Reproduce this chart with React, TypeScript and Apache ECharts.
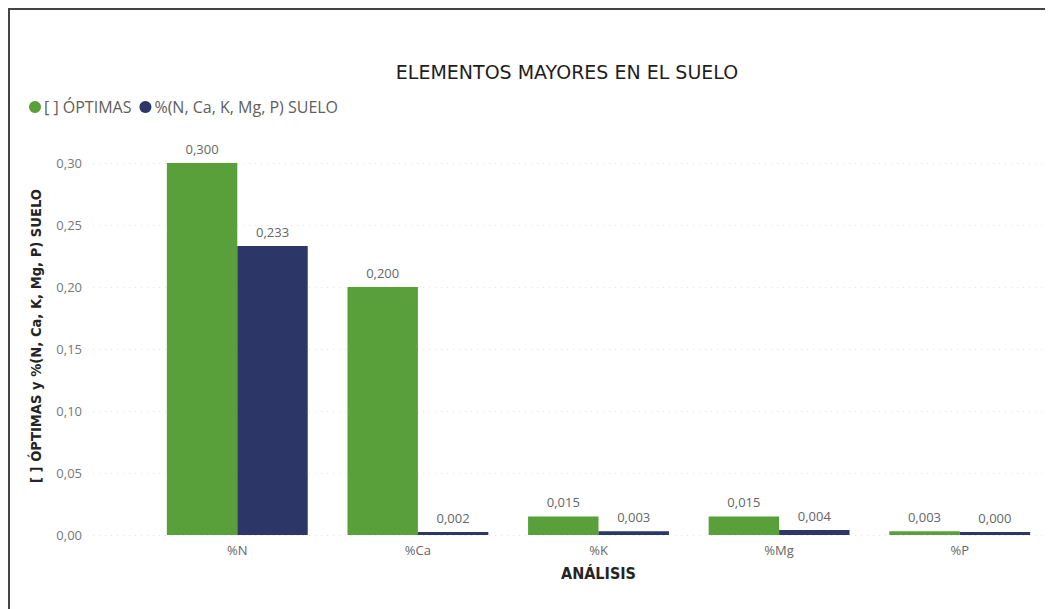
import React, { useEffect, useRef } from "react";
import * as echarts from "echarts";

const categories = ["%N", "%Ca", "%K", "%Mg", "%P"];
const optimas = [0.3, 0.2, 0.015, 0.015, 0.003];
const suelo = [0.233, 0.002, 0.003, 0.004, 0.0];
const seriesNames = ["[ ] ÓPTIMAS", "%(N, Ca, K, Mg, P) SUELO"];
const chartTitle = "ELEMENTOS MAYORES EN EL SUELO";
const yAxisTitle = "[ ] ÓPTIMAS y %(N, Ca, K, Mg, P) SUELO";
const xAxisTitle = "ANÁLISIS";

const fmt3 = (v: number) => v.toFixed(3).replace(".", ",");
const fmt2 = (v: number) => v.toFixed(2).replace(".", ",");

export default function App() {
  const ref = useRef<HTMLDivElement>(null);
  useEffect(() => {
    if (!ref.current) return;
    const chart = echarts.init(ref.current, undefined, { renderer: "svg" });
    const font = "'Open Sans', 'Noto Sans', sans-serif";
    const labelStyle = {
      show: true,
      position: "top" as const,
      distance: 8,
      color: "#666666",
      fontSize: 13,
      fontFamily: font,
      formatter: (p: any) => fmt3(p.value),
    };
    chart.setOption({
      animation: false,
      textStyle: { fontFamily: font },
      graphic: [
        {
          type: "text",
          x: 557,
          y: 62,
          style: {
            text: chartTitle,
            fill: "#1F1E1D",
            align: "center",
            verticalAlign: "middle",
            font: "500 19px 'DejaVu Sans', sans-serif",
          },
        },
        {
          type: "text",
          x: 25,
          y: 326,
          rotation: Math.PI / 2,
          style: {
            text: yAxisTitle,
            fill: "#252423",
            align: "center",
            verticalAlign: "middle",
            font: "bold 14.6px 'DejaVu Sans Condensed', 'DejaVu Sans', sans-serif",
          },
        },
      ],
      legend: {
        left: 14,
        top: 84,
        icon: "circle",
        itemWidth: 12,
        itemHeight: 12,
        itemGap: 8,
        textStyle: { color: "#605E5C", fontSize: 16, fontFamily: font, padding: [0, 0, 0, -2] },
        data: seriesNames,
      },
      grid: [
        { left: 137, right: 3, top: 153, bottom: 74 },
        { left: 83, right: 0, top: 153, bottom: 74 },
      ],
      xAxis: [
        {
          type: "category",
          gridIndex: 0,
          data: categories,
          axisLine: { show: false },
          axisTick: { show: false },
          axisLabel: { color: "#666666", fontSize: 13, margin: 8, fontFamily: font },
          name: xAxisTitle,
          nameLocation: "middle",
          nameGap: 30,
          nameTextStyle: {
            color: "#252423",
            fontSize: 16,
            fontWeight: "bold",
            fontFamily: "'DejaVu Sans Condensed', 'Roboto', sans-serif",
          },
        },
        {
          type: "value",
          gridIndex: 1,
          show: false,
          min: 0,
          max: 1,
        },
      ],
      yAxis: [
        {
          type: "value",
          gridIndex: 0,
          min: 0,
          max: 0.3,
          interval: 0.05,
          show: false,
        },
        {
          type: "value",
          gridIndex: 1,
          min: 0,
          max: 0.3,
          interval: 0.05,
          axisLine: { show: false },
          axisTick: { show: false },
          axisLabel: {
            color: "#777777",
            fontSize: 13,
            margin: 11,
            fontFamily: font,
            formatter: (v: number) => fmt2(v),
          },
          splitLine: { lineStyle: { color: "#E3E3E3", type: [1, 5], width: 1 } },
        },
      ],
      series: [
        {
          name: seriesNames[0],
          type: "bar",
          xAxisIndex: 0,
          yAxisIndex: 0,
          data: optimas,
          barGap: "0%",
          barCategoryGap: "22%",
          barMinHeight: 3,
          itemStyle: { color: "#59A03A" },
          label: labelStyle,
        },
        {
          name: seriesNames[1],
          type: "bar",
          xAxisIndex: 0,
          yAxisIndex: 0,
          data: suelo,
          barGap: "0%",
          barCategoryGap: "22%",
          barMinHeight: 3,
          itemStyle: { color: "#2C3667" },
          label: labelStyle,
        },
      ],
    });
    return () => chart.dispose();
  }, []);
  return (
    <div
      style={{
        width: 1045,
        height: 601,
        borderTop: "2px solid #444444",
        borderLeft: "2px solid #444444",
        boxSizing: "border-box",
        background: "#ffffff",
      }}
    >
      <div ref={ref} style={{ width: 1043, height: 599 }} />
    </div>
  );
}
